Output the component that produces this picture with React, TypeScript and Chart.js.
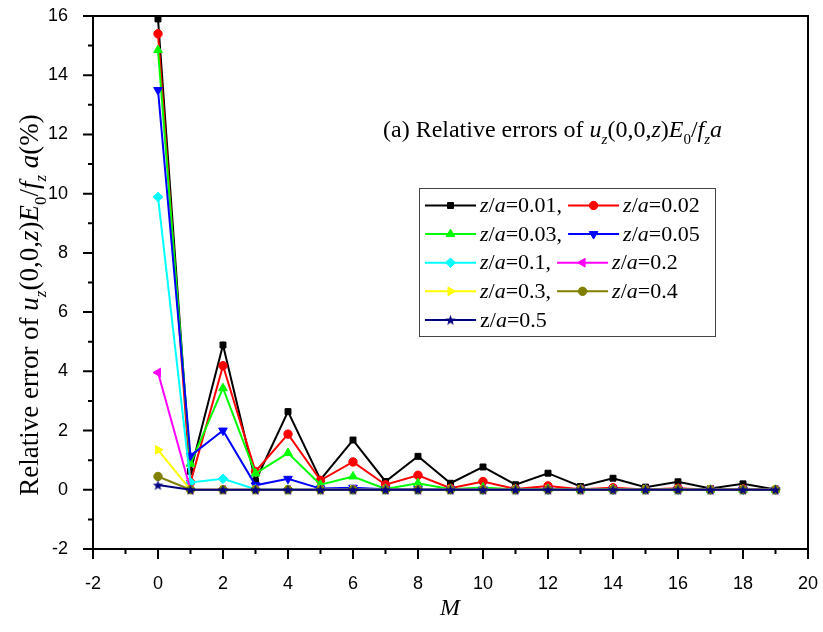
import React, { useEffect, useRef } from "react";
import { Chart, registerables } from "chart.js";
import { drawPoint } from "chart.js/helpers";

Chart.register(...registerables);

const M = [0, 1, 2, 3, 4, 5, 6, 7, 8, 9, 10, 11, 12, 13, 14, 15, 16, 17, 18, 19];
const za001 = [15.9, 0.62, 4.89, 0.3, 2.64, 0.34, 1.68, 0.28, 1.13, 0.22, 0.77, 0.17, 0.56, 0.11, 0.39, 0.09, 0.27, 0.04, 0.2, 0.01];
const za002 = [15.4, 0.25, 4.19, 0.62, 1.88, 0.32, 0.94, 0.17, 0.49, 0.05, 0.28, 0.03, 0.13, 0.02, 0.07, 0.01, 0.05, 0.0, 0.03, 0.0];
const za003 = [14.85, 0.88, 3.43, 0.55, 1.24, 0.17, 0.45, 0.03, 0.22, 0.02, 0.08, 0.01, 0.03, 0, 0.02, 0, 0.01, 0, 0, 0];
const za005 = [13.5, 1.15, 2.0, 0.15, 0.37, 0.04, 0.07, 0.02, 0.02, 0.01, 0.01, 0, 0, 0, 0, 0, 0, 0, 0, 0];
const za01 = [9.89, 0.25, 0.37, 0.02, 0.01, 0, 0, 0, 0, 0, 0, 0, 0, 0, 0, 0, 0, 0, 0, 0];
const za02 = [3.96, 0, 0, 0, 0, 0, 0, 0, 0, 0, 0, 0, 0, 0, 0, 0, 0, 0, 0, 0];
const za03 = [1.35, 0, 0, 0, 0, 0, 0, 0, 0, 0, 0, 0, 0, 0, 0, 0, 0, 0, 0, 0];
const za04 = [0.45, 0, 0, 0, 0, 0, 0, 0, 0, 0, 0, 0, 0, 0, 0, 0, 0, 0, 0, 0];
const za05 = [0.16, 0, 0, 0, 0, 0, 0, 0, 0, 0, 0, 0, 0, 0, 0, 0, 0, 0, 0, 0];

const seriesValues = [za001, za002, za003, za005, za01, za02, za03, za04, za05];
const seriesNumbers = ["0.01", "0.02", "0.03", "0.05", "0.1", "0.2", "0.3", "0.4", "0.5"];
const seriesColors = ["#000000", "#FF0000", "#00FF00", "#0000FF", "#00FFFF", "#FF00FF", "#FFFF00", "#808000", "#000080"];
const seriesShapes = ["rect", "circle", "triangle", "triangle", "rectRot", "triangle", "triangle", "circle", "star"];
const seriesRotations = [0, 0, 0, 180, 0, -90, 90, 0, 0];
const seriesRadius = [4.2, 4.2, 5, 5, 4.8, 5, 5, 4.2, 5];

const xTicks = [-2, 0, 2, 4, 6, 8, 10, 12, 14, 16, 18, 20];
const yTicks = [-2, 0, 2, 4, 6, 8, 10, 12, 14, 16];

const SERIF = "'Liberation Serif', 'Times New Roman', serif";
const SANS = "'Liberation Sans', Arial, sans-serif";

function makeStar(color: string, r: number): HTMLCanvasElement {
  const size = Math.ceil(r * 2 + 2);
  const c = document.createElement("canvas");
  c.width = size;
  c.height = size;
  const g = c.getContext("2d")!;
  const cx = size / 2, cy = size / 2 + 0.5;
  g.beginPath();
  for (let i = 0; i < 10; i++) {
    const rr = i % 2 === 0 ? r : r * 0.42;
    const a = -Math.PI / 2 + (i * Math.PI) / 5;
    const px = cx + rr * Math.cos(a);
    const py = cy + rr * Math.sin(a);
    if (i === 0) g.moveTo(px, py);
    else g.lineTo(px, py);
  }
  g.closePath();
  g.fillStyle = color;
  g.fill();
  return c;
}

type Run = { t: string; it?: boolean; sub?: boolean };

function drawRuns(ctx: CanvasRenderingContext2D, runs: Run[], x: number, y: number, size: number, center: boolean) {
  const fontFor = (r: Run) => `${r.it ? "italic " : ""}${r.sub ? Math.round(size * 0.62) : size}px ${SERIF}`;
  let total = 0;
  for (const r of runs) {
    ctx.font = fontFor(r);
    total += ctx.measureText(r.t).width;
  }
  let cx = center ? x - total / 2 : x;
  for (const r of runs) {
    ctx.font = fontFor(r);
    ctx.fillText(r.t, cx, r.sub ? y + size * 0.28 : y);
    cx += ctx.measureText(r.t).width;
  }
  return total;
}

const titleRuns: Run[] = [
  { t: "(a) Relative errors of " },
  { t: "u", it: true },
  { t: "z", it: true, sub: true },
  { t: "(0,0," },
  { t: "z", it: true },
  { t: ")" },
  { t: "E", it: true },
  { t: "0", sub: true },
  { t: "/" },
  { t: "f", it: true },
  { t: "z", it: true, sub: true },
  { t: "a", it: true },
];

const yTitleRuns: Run[] = [
  { t: "Relative error of " },
  { t: "u", it: true },
  { t: "z", it: true, sub: true },
  { t: "(0,0," },
  { t: "z", it: true },
  { t: ")" },
  { t: "E", it: true },
  { t: "0", sub: true },
  { t: "/" },
  { t: "f", it: true },
  { t: "z", it: true, sub: true },
  { t: " " },
  { t: "a", it: true },
  { t: "(%)" },
];

const decorPlugin = {
  id: "decor",
  afterDraw(chart: any) {
    const ctx: CanvasRenderingContext2D = chart.ctx;
    const { left, right, top, bottom } = chart.chartArea;
    const xs = chart.scales.x;
    const ys = chart.scales.y;
    ctx.save();
    ctx.strokeStyle = "#000";
    ctx.lineWidth = 2;
    // frame top & right
    ctx.beginPath();
    ctx.moveTo(left - 1, top);
    ctx.lineTo(right, top);
    ctx.lineTo(right, bottom + 1);
    ctx.stroke();
    // ticks
    ctx.beginPath();
    for (let v = -2; v <= 20; v++) {
      const px = xs.getPixelForValue(v);
      const len = v % 2 === 0 ? 10 : 5;
      ctx.moveTo(px, bottom);
      ctx.lineTo(px, bottom + len);
    }
    for (let v = -2; v <= 16; v++) {
      const py = ys.getPixelForValue(v);
      const len = v % 2 === 0 ? 10 : 5;
      ctx.moveTo(left, py);
      ctx.lineTo(left - len, py);
    }
    ctx.stroke();

    ctx.fillStyle = "#000";
    ctx.textBaseline = "alphabetic";
    ctx.textAlign = "left";
    // inner title
    drawRuns(ctx, titleRuns, 383, 137, 24, false);

    // x title
    ctx.font = `italic 24px ${SERIF}`;
    ctx.textAlign = "center";
    ctx.fillText("M", 450, 615);
    ctx.textAlign = "left";

    // y title
    ctx.save();
    ctx.translate(38, 305);
    ctx.rotate(-Math.PI / 2);
    drawRuns(ctx, yTitleRuns, 0, 0, 27, true);
    ctx.restore();

    // legend
    const lx = 419, ly = 188, lw = 296, lh = 148;
    ctx.lineWidth = 1;
    ctx.strokeStyle = "#444";
    ctx.strokeRect(lx + 0.5, ly + 0.5, lw, lh);
    const rowH = 28.6;
    const lineLen = 51;
    const fs = 22;
    let row = 0;
    for (let i = 0; i < seriesValues.length; i += 2) {
      const cy = ly + 17.5 + row * rowH;
      let cx = lx + 6;
      for (let k = 0; k < 2 && i + k < seriesValues.length; k++) {
        const idx = i + k;
        ctx.strokeStyle = seriesColors[idx];
        ctx.lineWidth = 2;
        ctx.beginPath();
        ctx.moveTo(cx, cy);
        ctx.lineTo(cx + lineLen, cy);
        ctx.stroke();
        const ds = chart.data.datasets[idx];
        ctx.fillStyle = seriesColors[idx];
        ctx.strokeStyle = seriesColors[idx];
        ctx.lineWidth = 1;
        drawPoint(ctx, {
          pointStyle: ds.pointStyle,
          radius: seriesRadius[idx],
          rotation: seriesRotations[idx],
          borderWidth: 1,
        } as any, cx + lineLen / 2, cy);
        ctx.fillStyle = "#000";
        const isLast = idx === seriesValues.length - 1;
        const runs: Run[] = [
          { t: "z", it: !isLast },
          { t: "/" },
          { t: "a", it: true },
          { t: "=" + seriesNumbers[idx] + (k === 0 && !isLast ? "," : "") },
        ];
        ctx.textBaseline = "middle";
        const w = drawRuns(ctx, runs, cx + lineLen + 4, cy + 1, fs, false);
        ctx.textBaseline = "alphabetic";
        cx = cx + lineLen + 4 + w + 6;
      }
      row++;
    }
    ctx.restore();
  },
};

export default function App() {
  const ref = useRef<HTMLCanvasElement | null>(null);
  useEffect(() => {
    document.body.style.margin = "0";
    const canvas = ref.current!;
    const datasets = seriesValues.map((vals, i) => {
      const ps: any = seriesShapes[i] === "star" ? makeStar(seriesColors[i], 5.5) : seriesShapes[i];
      return {
        label: "z/a=" + seriesNumbers[i],
        data: vals.map((v, j) => ({ x: M[j], y: v })),
        borderColor: seriesColors[i],
        backgroundColor: seriesColors[i],
        pointBackgroundColor: seriesColors[i],
        pointBorderColor: seriesColors[i],
        pointStyle: ps,
        pointRotation: seriesRotations[i],
        pointRadius: seriesRadius[i],
        pointBorderWidth: 1,
        borderWidth: 2,
        tension: 0,
        order: seriesValues.length - i,
        clip: false as any,
      };
    });
    const chart = new Chart(canvas, {
      type: "line",
      data: { datasets },
      options: {
        responsive: false,
        animation: false,
        devicePixelRatio: 1,
        layout: { padding: { left: 0, top: 16, right: 15, bottom: 0 } },
        plugins: { legend: { display: false }, tooltip: { enabled: false }, title: { display: false } },
        scales: {
          x: {
            type: "linear",
            min: -2,
            max: 20,
            afterBuildTicks: (s: any) => { s.ticks = xTicks.map((v) => ({ value: v })); },
            afterFit: (s: any) => { s.height = 83; s.paddingLeft = 0; s.paddingRight = 0; },
            grid: { display: false },
            border: { display: true, color: "#000", width: 2 },
            ticks: { font: { family: SANS, size: 18 }, color: "#000", padding: 16, maxRotation: 0, autoSkip: false },
          },
          y: {
            type: "linear",
            min: -2,
            max: 16,
            afterBuildTicks: (s: any) => { s.ticks = yTicks.map((v) => ({ value: v })); },
            afterFit: (s: any) => { s.width = 93; s.paddingTop = 0; s.paddingBottom = 0; },
            grid: { display: false },
            border: { display: true, color: "#000", width: 2 },
            ticks: { font: { family: SANS, size: 18 }, color: "#000", padding: 17, autoSkip: false },
          },
        },
      },
      plugins: [decorPlugin],
    });
    return () => chart.destroy();
  }, []);
  return (
    <div style={{ position: "absolute", left: 0, top: 0, width: 823, height: 632, background: "#fff" }}>
      <canvas ref={ref} width={823} height={632} style={{ width: 823, height: 632, display: "block" }} />
    </div>
  );
}
